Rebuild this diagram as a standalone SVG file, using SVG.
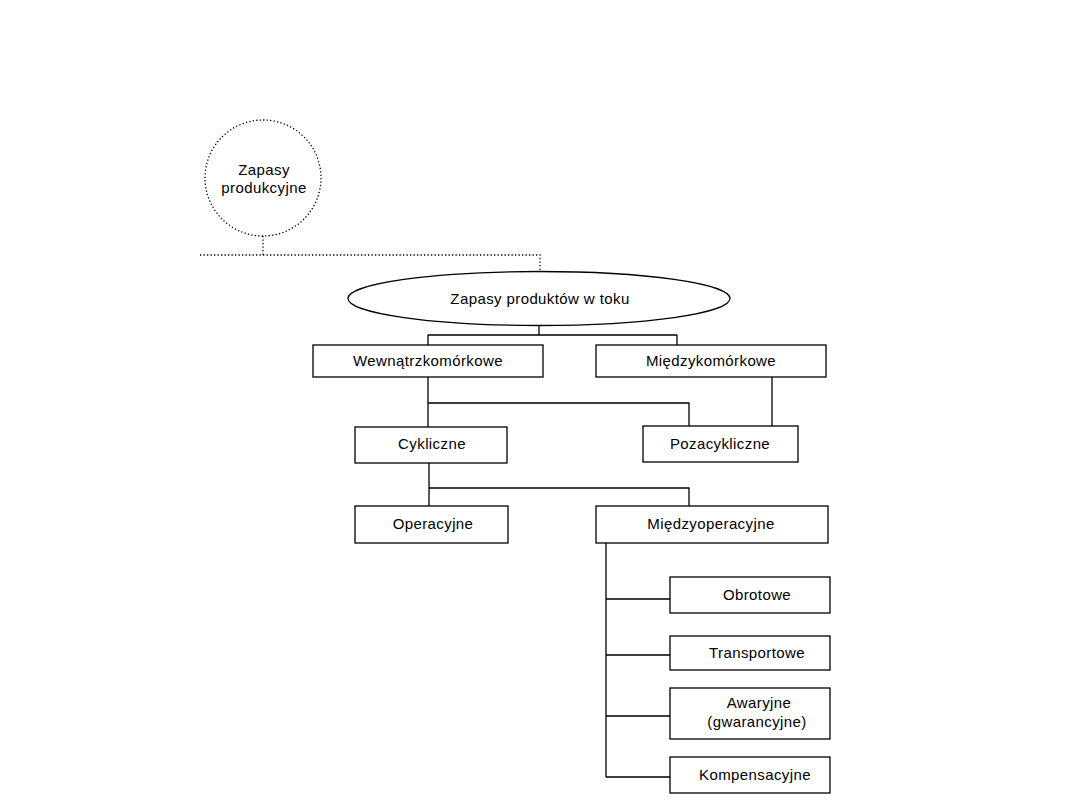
<svg xmlns="http://www.w3.org/2000/svg" width="1080" height="810" viewBox="0 0 1080 810">
<style>
.box{fill:#fff;stroke:#000;stroke-width:1.3}
.ln{fill:none;stroke:#000;stroke-width:1.3}
.dot{fill:none;stroke:#000;stroke-width:1.3;stroke-dasharray:1.3 2.2}
text{font-family:"Liberation Sans",Arial,sans-serif;font-size:15px;letter-spacing:0.4px;fill:#000;text-anchor:middle}
</style>
<rect width="1080" height="810" fill="#fff"/>
<g id="connectors">
<path class="dot" d="M263 236 V255 M200 255 H540 V271"/>
<path class="ln" d="M539 326 V335 M428 335 H677 M428 335 V345 M677 335 V345"/>
<path class="ln" d="M428 377 V427 M428 403 H689 V426 M772 377 V426"/>
<path class="ln" d="M429 463 V506 M429 488 H689 V506"/>
<path class="ln" d="M606 543 V777 M606 599 H670 M606 655 H670 M606 716 H670 M606 777 H670"/>
</g>
<g id="n_zapasy_produkcyjne">
<circle class="dot" cx="263" cy="178" r="58"/>
<text x="264" y="175">Zapasy</text>
<text x="264" y="193">produkcyjne</text>
</g>
<g id="n_produkty_w_toku">
<ellipse class="box" cx="539" cy="298.5" rx="191" ry="27"/>
<text x="540" y="304">Zapasy produktów w toku</text>
</g>
<g id="n_wewnatrzkomorkowe">
<rect class="box" x="313" y="345" width="230" height="32"/>
<text x="428" y="366">Wewnątrzkomórkowe</text>
</g>
<g id="n_miedzykomorkowe">
<rect class="box" x="596" y="345" width="230" height="32"/>
<text x="711" y="366">Międzykomórkowe</text>
</g>
<g id="n_cykliczne">
<rect class="box" x="355" y="427" width="152" height="36"/>
<text x="432" y="449">Cykliczne</text>
</g>
<g id="n_pozacykliczne">
<rect class="box" x="643" y="426" width="155" height="36"/>
<text x="720" y="449">Pozacykliczne</text>
</g>
<g id="n_operacyjne">
<rect class="box" x="355" y="506" width="153" height="37"/>
<text x="433" y="529">Operacyjne</text>
</g>
<g id="n_miedzyoperacyjne">
<rect class="box" x="596" y="506" width="232" height="37"/>
<text x="711" y="529">Międzyoperacyjne</text>
</g>
<g id="n_obrotowe">
<rect class="box" x="670" y="577" width="160" height="36"/>
<text x="757" y="600">Obrotowe</text>
</g>
<g id="n_transportowe">
<rect class="box" x="670" y="636" width="160" height="34"/>
<text x="757" y="658">Transportowe</text>
</g>
<g id="n_awaryjne">
<rect class="box" x="670" y="688" width="160" height="51"/>
<text x="759" y="708">Awaryjne</text>
<text x="757" y="727">(gwarancyjne)</text>
</g>
<g id="n_kompensacyjne">
<rect class="box" x="670" y="757" width="160" height="36"/>
<text x="755" y="780">Kompensacyjne</text>
</g>
</svg>
